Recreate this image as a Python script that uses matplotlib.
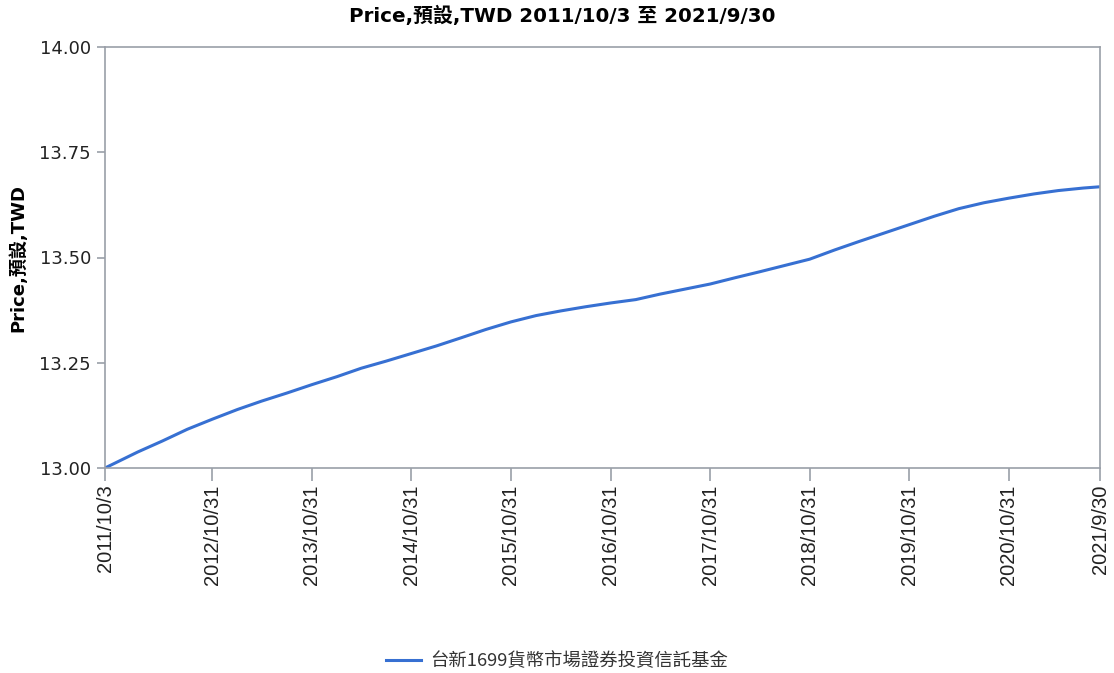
import numpy as np
import pandas as pd
import matplotlib
matplotlib.use('Agg')
import matplotlib.pyplot as plt

# data (quarterly readings)
dates = ['2011-10-03', '2012-01-31', '2012-04-30', '2012-07-31', '2012-10-31',
         '2013-01-31', '2013-04-30', '2013-07-31', '2013-10-31',
         '2014-01-31', '2014-04-30', '2014-07-31', '2014-10-31',
         '2015-01-31', '2015-04-30', '2015-07-31', '2015-10-31',
         '2016-01-31', '2016-04-30', '2016-07-31', '2016-10-31',
         '2017-01-31', '2017-04-30', '2017-07-31', '2017-10-31',
         '2018-01-31', '2018-04-30', '2018-07-31', '2018-10-31',
         '2019-01-31', '2019-04-30', '2019-07-31', '2019-10-31',
         '2020-01-31', '2020-04-30', '2020-07-31', '2020-10-31',
         '2021-01-31', '2021-04-30', '2021-07-31', '2021-09-30']
prices = [13.000, 13.038, 13.064, 13.092, 13.116,
          13.139, 13.159, 13.178, 13.198,
          13.217, 13.237, 13.254, 13.272,
          13.290, 13.309, 13.329, 13.347,
          13.362, 13.373, 13.383, 13.392,
          13.400, 13.413, 13.425, 13.437,
          13.452, 13.466, 13.481, 13.496,
          13.518, 13.538, 13.558, 13.578,
          13.598, 13.616, 13.630, 13.641,
          13.651, 13.659, 13.665, 13.668]
tick_dates = ['2011-10-03', '2012-10-31', '2013-10-31', '2014-10-31', '2015-10-31',
              '2016-10-31', '2017-10-31', '2018-10-31', '2019-10-31', '2020-10-31',
              '2021-09-30']
tick_labels = ['2011/10/3', '2012/10/31', '2013/10/31', '2014/10/31', '2015/10/31',
               '2016/10/31', '2017/10/31', '2018/10/31', '2019/10/31', '2020/10/31',
               '2021/9/30']
series_name = '台新1699貨幣市場證券投資信託基金'
title = 'Price,預設,TWD 2011/10/3 至 2021/9/30'
ylabel = 'Price,預設,TWD'

plt.rcParams['font.family'] = ['DejaVu Sans', 'Noto Sans CJK TC']

x = pd.to_datetime(dates)
xt = pd.to_datetime(tick_dates)

fig = plt.figure(figsize=(11.14, 6.73), dpi=100)
ax = fig.add_axes([105/1114, 1-468/673, 995/1114, 421/673])

line, = ax.plot(x, prices, color='#3770d2', lw=2.2, label=series_name,
                solid_joinstyle='round')

ax.set_xlim(xt[0], xt[-1])
ax.set_ylim(13.0, 14.0)
ax.set_yticks([13.0, 13.25, 13.5, 13.75, 14.0])
ax.set_yticklabels(['13.00', '13.25', '13.50', '13.75', '14.00'], fontsize=13, color='#222222')
ax.set_xticks(xt)
ax.set_xticklabels(tick_labels, rotation=90, fontsize=14.5, family='Liberation Sans', color='#222222')

for s in ax.spines.values():
    s.set_color('#9a9fa8')
    s.set_linewidth(1.2)
ax.tick_params(axis='y', length=6, color='#9a9fa8', width=1.2, pad=4)
ax.tick_params(axis='x', length=9, color='#9a9fa8', width=1.2, pad=3)

fig.text(562/1114, 1-16/673, title, ha='center', va='center', fontsize=14.3, fontweight='bold')
fig.text(18/1114, 1-258/673, ylabel, ha='center', va='center', rotation=90, fontsize=13, fontweight='bold')

leg = fig.legend(handles=[line], loc='center', bbox_to_anchor=(557/1114, 1-661/673),
                 frameon=False, handlelength=1.9, handletextpad=0.5,
                 prop={'family': ['Noto Sans CJK TC', 'DejaVu Sans'], 'size': 13.2})
for t in leg.get_texts():
    t.set_color('#333333')

plt.savefig('out.png', dpi=100)
